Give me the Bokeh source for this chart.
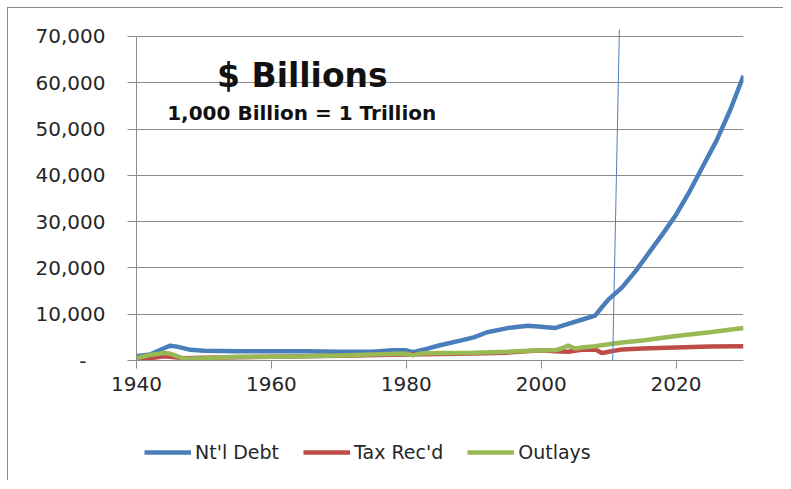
from bokeh.plotting import figure
from bokeh.layouts import column
from bokeh.models import Range1d, FixedTicker, Legend, LegendItem, Label
from bokeh.embed import file_html
from bokeh.resources import INLINE

# ---- data ----
debt_years = [1940, 1942, 1944, 1945, 1946, 1948, 1950, 1955, 1960, 1965, 1970, 1975, 1978,
              1980, 1981, 1983, 1985, 1988, 1990, 1992, 1995, 1998, 2000, 2002, 2004, 2006,
              2008, 2009, 2010, 2012, 2014, 2016, 2018, 2020, 2022, 2024, 2026, 2028, 2030]
debt = [900, 1300, 2600, 3200, 3000, 2300, 2100, 2000, 2000, 2000, 1900, 1900, 2200,
        2200, 1800, 2500, 3300, 4300, 5000, 6100, 7000, 7500, 7300, 7000, 7900, 8800,
        9700, 11500, 13200, 15800, 19300, 23300, 27300, 31500, 36500, 42000, 47500, 54000, 61500]

tax_years = [1940, 1942, 1944, 1945, 1947, 1950, 1960, 1970, 1980, 1985, 1990, 1995, 2000,
             2002, 2004, 2006, 2008, 2009, 2010, 2012, 2015, 2020, 2025, 2030]
tax = [200, 500, 900, 800, 500, 600, 800, 1000, 1300, 1400, 1500, 1700, 2200,
       2000, 1900, 2300, 2400, 1600, 1900, 2400, 2600, 2800, 3000, 3100]

outlay_years = [1940, 1942, 1944, 1945, 1947, 1950, 1955, 1960, 1965, 1970, 1975, 1980, 1981,
                1982, 1985, 1990, 1995, 2000, 2002, 2003, 2004, 2005, 2006, 2008, 2010, 2012,
                2015, 2020, 2025, 2030]
outlays = [500, 1200, 1600, 1500, 400, 500, 800, 800, 900, 1100, 1300, 1500, 1100,
           1500, 1600, 1700, 1900, 2200, 2200, 2600, 3200, 2600, 2800, 3100, 3500, 3900,
           4300, 5300, 6100, 7000]

series_names = ["Nt'l Debt", "Tax Rec'd", "Outlays"]
series_colors = ["#4a7ebb", "#be4b48", "#98b954"]

y_ticks = [0, 10000, 20000, 30000, 40000, 50000, 60000, 70000]
y_tick_labels = ["-\u00a0\u00a0\u00a0", "10,000", "20,000", "30,000", "40,000", "50,000", "60,000", "70,000"]
x_ticks = [1940, 1960, 1980, 2000, 2020]

marker_years = [2011.6, 2010.6]
marker_vals = [71500, 0]

FONT = "DejaVu Sans"
GRAY = "#8c8c8c"

p = figure(frame_width=607, frame_height=331, output_backend="svg", toolbar_location=None,
           x_range=Range1d(1940, 2030), y_range=Range1d(0, 71500),
           min_border_left=128, min_border_right=40, min_border_top=21, min_border_bottom=50)
p.outline_line_color = None
p.background_fill_color = "white"
p.border_fill_color = "white"

# axes
p.yaxis.ticker = FixedTicker(ticks=y_ticks)
p.yaxis.major_label_overrides = {t: l for t, l in zip(y_ticks, y_tick_labels)}
p.yaxis.bounds = (0, 70000)
p.xaxis.ticker = FixedTicker(ticks=x_ticks)
p.xaxis.major_label_overrides = {t: str(t) for t in x_ticks}
for ax in (p.xaxis[0], p.yaxis[0]):
    ax.axis_line_color = GRAY
    ax.major_tick_line_color = GRAY
    ax.major_tick_in = 0
    ax.minor_tick_line_color = None
    ax.major_label_text_font = FONT
    ax.major_label_text_font_size = "20px"
    ax.major_label_text_color = "#262626"
p.yaxis.major_tick_out = 9
p.yaxis.major_label_standoff = 22
p.xaxis.major_tick_out = 8
p.xaxis.major_label_standoff = 8

p.xgrid.grid_line_color = None
p.ygrid.grid_line_color = GRAY
p.ygrid.grid_line_alpha = 1.0

# series
series_data = [(debt_years, debt), (tax_years, tax), (outlay_years, outlays)]
for (xs, ys), c in zip(series_data, series_colors):
    p.line(xs, ys, line_color=c, line_width=4.5)

# vertical marker line
p.line(marker_years, marker_vals, line_color="#4f81bd", line_width=1)

# titles
p.add_layout(Label(x=1964.6, y=61550, text="$ Billions", text_font=FONT, text_font_style="bold",
                   text_font_size="33px", text_align="center", text_baseline="middle", text_color="#111111"))
p.add_layout(Label(x=1964.5, y=53560, text="1,000 Billion = 1 Trillion", text_font=FONT,
                   text_font_style="bold", text_font_size="20px", text_align="center",
                   text_baseline="middle", text_color="#111111"))

# ---- legend strip (separate figure so it is not clipped) ----
leg = figure(width=775, height=70, output_backend="svg", toolbar_location=None,
             x_axis_location=None, y_axis_location=None,
             x_range=Range1d(0, 1), y_range=Range1d(0, 1),
             min_border_left=0, min_border_right=0, min_border_top=0, min_border_bottom=0)
leg.grid.visible = False
leg.outline_line_color = None
leg.border_fill_color = "white"
items = []
for name, (xs, ys), c in zip(series_names, series_data, series_colors):
    # same series drawn off-range: only its legend swatch is visible here
    r = leg.line(xs, ys, line_color=c, line_width=4.5)
    items.append(LegendItem(label=name, renderers=[r]))
legend = Legend(items=items, orientation="horizontal", location=(8, 17),
                glyph_width=47, label_standoff=4, spacing=24, padding=0, margin=0,
                label_text_font=FONT, label_text_font_size="19px", label_text_color="#262626",
                border_line_color=None, background_fill_alpha=0)
leg.add_layout(legend, "center")

layout = column(p, leg, spacing=0)
layout.styles = {"margin-left": "7px", "margin-top": "7px",
                 "border-left": "1px solid #8a8a8a", "border-top": "1px solid #8a8a8a"}

open("out.html", "w").write(file_html(layout, INLINE))
